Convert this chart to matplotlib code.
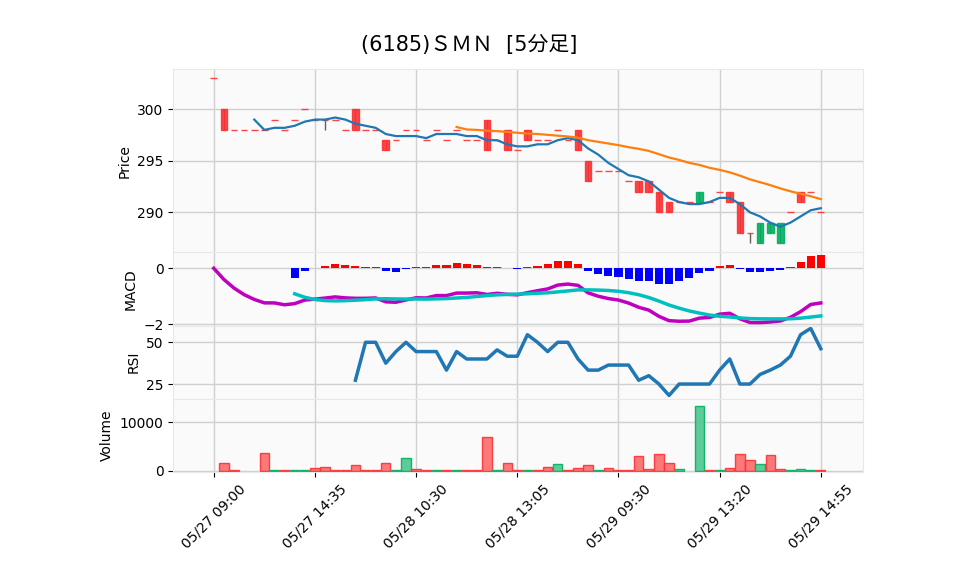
import numpy as np
import pandas as pd
import matplotlib
matplotlib.use('Agg')
import matplotlib.pyplot as plt

plt.rcParams['font.family'] = ['DejaVu Sans', 'Noto Sans CJK JP']

title = '(6185)ＳＭＮ  [5分足]'
tick_labels = ['05/27 09:00', '05/27 14:35', '05/28 10:30', '05/28 13:05',
               '05/29 09:30', '05/29 13:20', '05/29 14:55']

# 5-minute bars (61 bars)
opens = [303, 300, 298, 298, 298, 298, 299, 298, 299, 300,
         299, 299, 299, 298, 300, 298, 298, 297, 297, 298,
         298, 297, 298, 297, 298, 297, 297, 299, 297, 298,
         296, 298, 297, 297, 298, 297, 298, 295, 294, 294,
         294, 293, 293, 293, 292, 291, 291, 291, 291, 291,
         292, 292, 291, 288, 287, 288, 287, 290, 292, 292,
         290]
highs = [303, 300, 298, 298, 298, 298, 299, 298, 299, 300,
         299, 299, 299, 298, 300, 298, 298, 297, 297, 298,
         298, 297, 298, 297, 298, 297, 297, 299, 297, 298,
         296, 298, 297, 297, 298, 297, 298, 295, 294, 294,
         294, 293, 293, 293, 292, 291, 291, 291, 292, 291,
         292, 292, 291, 288, 289, 289, 289, 290, 292, 292,
         290]
lows = [303, 298, 298, 298, 298, 298, 299, 298, 299, 300,
        299, 298, 299, 298, 298, 298, 298, 296, 297, 298,
        298, 297, 298, 297, 298, 297, 297, 296, 297, 296,
        296, 297, 297, 297, 298, 297, 296, 293, 294, 294,
        294, 293, 292, 292, 290, 290, 291, 291, 291, 291,
        292, 291, 288, 287, 287, 288, 287, 290, 291, 292,
        290]
closes = [303, 298, 298, 298, 298, 298, 299, 298, 299, 300,
          299, 299, 299, 298, 298, 298, 298, 296, 297, 298,
          298, 297, 298, 297, 298, 297, 297, 296, 297, 296,
          296, 297, 297, 297, 298, 297, 296, 293, 294, 294,
          294, 293, 292, 292, 290, 290, 291, 291, 292, 291,
          292, 291, 288, 288, 289, 289, 289, 290, 291, 292,
          290]
volumes = [np.nan, 1490, 100, np.nan, np.nan, 3700, 100, 100, 100, 100,
           470, 740, 100, 100, 1080, 100, 100, 1490, 100, 2570,
           340, 100, 100, 100, 100, 100, 100, 6960, 100, 1490,
           100, 100, 100, 680, 1350, 100, 470, 1080, 100, 540,
           100, 100, 3110, 340, 3520, 1490, 270, np.nan, 13450, 100,
           200, 540, 3520, 2300, 1350, 3310, 270, 100, 270, 100,
           100]

df = pd.DataFrame({'Open': opens, 'High': highs, 'Low': lows,
                   'Close': closes, 'Volume': volumes})
x = np.arange(len(df))

# indicators
ma5 = df['Close'].rolling(5).mean()
ma25 = df['Close'].rolling(25).mean()
macd = df['Close'].ewm(span=12, adjust=False).mean() - df['Close'].ewm(span=26, adjust=False).mean()
signal = macd.rolling(9).mean()
hist = macd - signal
delta = df['Close'].diff()
gain = delta.clip(lower=0).rolling(14).mean()
loss = (-delta.clip(upper=0)).rolling(14).mean()
rsi = 100 - 100 / (1 + gain / loss)

up_c, down_c = '#00b060', '#fe3032'
vol_up, vol_down = '#4dc790', '#fd6b6c'
candle_col = [up_c if o < c else down_c for o, c in zip(opens, closes)]
vol_col = [up_c if opens[0] < closes[0] else down_c] + \
          [up_c if p < c else down_c for p, c in zip(closes[:-1], closes[1:])]
vol_face = [vol_up if c == up_c else vol_down for c in vol_col]

W, H = 958, 575
fig = plt.figure(figsize=(W / 100, H / 100), dpi=100)
left, right = 173.3, 863.3
edges = [69.3, 252.3, 325.6, 398.9, 472.2]
axes = []
for top, bot in zip(edges[:-1], edges[1:]):
    ax = fig.add_axes([left / W, 1 - bot / H, (right - left) / W, (bot - top) / H])
    ax.set_facecolor('#fafafa')
    ax.grid(True, color='#d0d0d0', linewidth=1)
    ax.set_axisbelow(True)
    for s in ax.spines.values():
        s.set_color('#e8e8e8')
    ax.set_xlim(-4.0, 64.2)
    ax.set_xticks(range(0, 61, 10))
    ax.tick_params(axis='x', length=0, labelbottom=False)
    ax.tick_params(axis='y', labelsize=10, length=3.5)
    axes.append(ax)
ax_p, ax_m, ax_r, ax_v = axes

# price
ax_p.vlines(x, df['Low'], df['High'], color='#606060', linewidth=1, zorder=2)
body = np.abs(df['Close'] - df['Open'])
bottom = np.minimum(df['Close'], df['Open'])
ax_p.bar(x, body, bottom=bottom, width=0.66, color=candle_col, edgecolor=candle_col,
         linewidth=1, alpha=0.9, zorder=3)
ax_p.plot(x, ma5, color='#1f77b4', linewidth=1.6, zorder=4)
ax_p.plot(x, ma25, color='#ff7f0e', linewidth=1.6, zorder=4)
ax_p.set_ylim(286.12, 303.88)
ax_p.set_yticks([290, 295, 300])
ax_p.set_ylabel('Price', fontsize=10)

# MACD
hist_col = ['red' if h >= 0 else 'blue' for h in hist.fillna(0)]
ax_m.bar(x, hist, width=0.8, color=hist_col, zorder=2)
ax_m.plot(x, macd, color='m', linewidth=2.5, zorder=3)
ax_m.plot(x, signal, color='c', linewidth=2.5, zorder=3)
ax_m.set_ylim(-2.046, 0.571)
ax_m.set_yticks([-2, 0])
ax_m.set_ylabel('MACD', fontsize=10)

# RSI
ax_r.plot(x, rsi, color='#1f77b4', linewidth=2.5)
ax_r.set_ylim(16.1, 60.0)
ax_r.set_yticks([25, 50])
ax_r.set_ylabel('RSI', fontsize=10)

# volume
ax_v.bar(x, df['Volume'], width=0.92, color=vol_face, edgecolor=vol_col, linewidth=1,
         alpha=0.9, zorder=2)
ax_v.set_ylim(-310, 14834)
ax_v.set_yticks([0, 10000])
ax_v.set_ylabel('Volume', fontsize=10)
ax_v.tick_params(axis='x', length=3.5, labelbottom=True, labelsize=10)
ax_v.set_xticklabels(tick_labels, rotation=45)

fig.text(469 / W, 1 - 45 / H, title, ha='center', va='center', fontsize=15)
fig.savefig('out.png', dpi=100)
